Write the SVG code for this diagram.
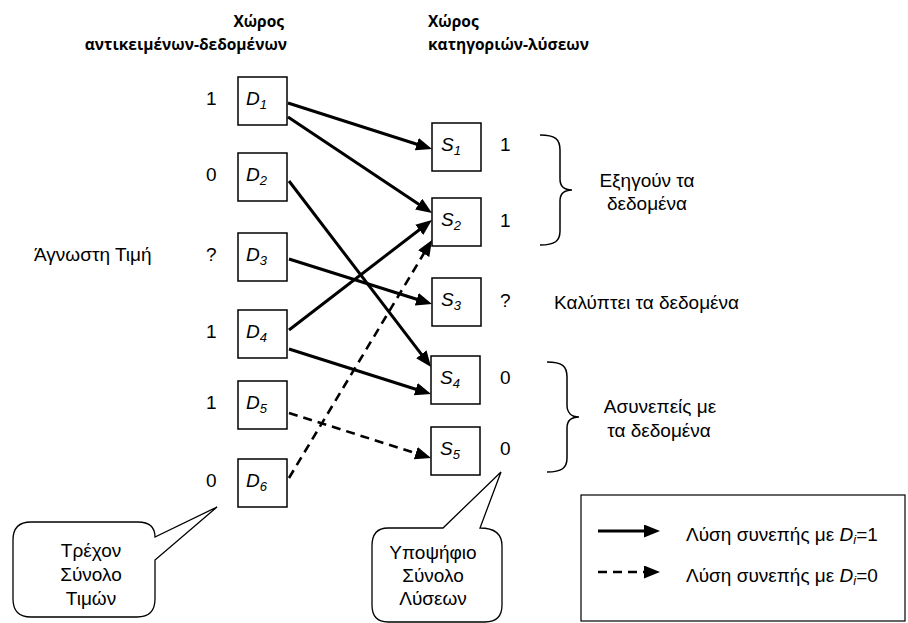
<svg xmlns="http://www.w3.org/2000/svg" width="908" height="623" viewBox="0 0 908 623">
<defs>
<style>
.t{font-family:"Liberation Sans",Arial,sans-serif;font-size:19px;fill:#000}
.h{font-family:"Open Sans","Liberation Sans",sans-serif;font-size:15.5px;font-weight:700;fill:#000}
.i{font-style:italic}
.box{fill:#fff;stroke:#000;stroke-width:1.5}
.sol{stroke:#000;stroke-width:3;fill:none}
.das{stroke:#000;stroke-width:2.6;fill:none;stroke-dasharray:9 6}
.thin{stroke:#000;stroke-width:1.5;fill:none}
.call{fill:#fff;stroke:#000;stroke-width:1.3}
</style>
<marker id="ah" markerUnits="userSpaceOnUse" markerWidth="18" markerHeight="14" refX="10" refY="6.5" orient="auto">
<path d="M0,0 L16,6.5 L0,13 Z" fill="#000"/>
</marker>
</defs>
<rect width="908" height="623" fill="#fff"/>

<g id="headers">
<text class="h" x="284" y="27" text-anchor="end">Χώρος</text>
<text class="h" x="287" y="50" text-anchor="end">αντικειμένων-δεδομένων</text>
<text class="h" x="428" y="27">Χώρος</text>
<text class="h" x="428" y="50">κατηγοριών-λύσεων</text>
</g>

<g id="connectors">
<line class="sol" x1="288" y1="103" x2="426.3" y2="147.2" marker-end="url(#ah)"/>
<line class="sol" x1="288" y1="117" x2="427" y2="209.7" marker-end="url(#ah)"/>
<line class="sol" x1="289" y1="181" x2="427.4" y2="362.2" marker-end="url(#ah)"/>
<line class="sol" x1="289" y1="259" x2="426.3" y2="302.2" marker-end="url(#ah)"/>
<line class="sol" x1="289" y1="330" x2="427.2" y2="223.7" marker-end="url(#ah)"/>
<line class="sol" x1="289" y1="349" x2="425.3" y2="392.2" marker-end="url(#ah)"/>
<line class="das" x1="289" y1="413" x2="425.3" y2="456.2" marker-end="url(#ah)"/>
<line class="das" x1="289" y1="478" x2="428.9" y2="245.1" marker-end="url(#ah)"/>
</g>

<g id="D1"><rect class="box" x="238" y="77" width="49" height="48"/><text class="t i" x="246" y="105">D<tspan font-size="13" dy="4">1</tspan></text><text class="t" x="206" y="105">1</text></g>
<g id="D2"><rect class="box" x="238" y="153" width="49" height="48"/><text class="t i" x="246" y="181">D<tspan font-size="13" dy="4">2</tspan></text><text class="t" x="206" y="181">0</text></g>
<g id="D3"><rect class="box" x="238" y="233" width="49" height="48"/><text class="t i" x="246" y="261">D<tspan font-size="13" dy="4">3</tspan></text><text class="t" x="206" y="261">?</text><text class="t" x="34" y="261">Άγνωστη Τιμή</text></g>
<g id="D4"><rect class="box" x="238" y="310" width="49" height="48"/><text class="t i" x="246" y="338">D<tspan font-size="13" dy="4">4</tspan></text><text class="t" x="206" y="338">1</text></g>
<g id="D5"><rect class="box" x="238" y="381" width="49" height="48"/><text class="t i" x="246" y="409">D<tspan font-size="13" dy="4">5</tspan></text><text class="t" x="206" y="409">1</text></g>
<g id="D6"><rect class="box" x="238" y="459" width="49" height="48"/><text class="t i" x="246" y="487">D<tspan font-size="13" dy="4">6</tspan></text><text class="t" x="206" y="487">0</text></g>

<g id="S1"><rect class="box" x="432" y="123" width="49" height="48"/><text class="t i" x="441" y="151">S<tspan font-size="13" dy="4">1</tspan></text><text class="t" x="500" y="151">1</text></g>
<g id="S2"><rect class="box" x="432" y="198" width="49" height="48"/><text class="t i" x="441" y="226">S<tspan font-size="13" dy="4">2</tspan></text><text class="t" x="500" y="227">1</text></g>
<g id="S3"><rect class="box" x="432" y="278" width="49" height="48"/><text class="t i" x="441" y="306">S<tspan font-size="13" dy="4">3</tspan></text><text class="t" x="500" y="307">?</text></g>
<g id="S4"><rect class="box" x="431" y="356" width="49" height="48"/><text class="t i" x="440" y="384">S<tspan font-size="13" dy="4">4</tspan></text><text class="t" x="500" y="384">0</text></g>
<g id="S5"><rect class="box" x="431" y="427" width="49" height="48"/><text class="t i" x="440" y="455">S<tspan font-size="13" dy="4">5</tspan></text><text class="t" x="500" y="455">0</text></g>

<g id="brace1">
<path class="thin" d="M540,135 C555,135 560,139 560,150 L560,179 C560,186 564,190 572,190 C564,190 560,194 560,201 L560,231 C560,241 555,245 540,245"/>
<text class="t" x="647" y="187" text-anchor="middle">Εξηγούν τα</text>
<text class="t" x="647" y="210" text-anchor="middle">δεδομένα</text>
</g>
<g id="covers"><text class="t" x="554" y="309">Καλύπτει τα δεδομένα</text></g>
<g id="brace2">
<path class="thin" d="M547,362 C562,362 567,366 567,377 L567,405 C567,412 571,417 579,417 C571,417 567,421 567,428 L567,458 C567,468 562,472 547,472"/>
<text class="t" x="660" y="413" text-anchor="middle">Ασυνεπείς με</text>
<text class="t" x="659" y="437" text-anchor="middle">τα δεδομένα</text>
</g>

<g id="callout1">
<path class="call" d="M31,522 H138 Q155,522 155,537 L217,507 L155,560 V599 Q155,617 137,617 H31 Q13,617 13,599 V540 Q13,522 31,522 Z"/>
<text class="t" x="91" y="557" text-anchor="middle">Τρέχον</text>
<text class="t" x="91" y="581" text-anchor="middle">Σύνολο</text>
<text class="t" x="91" y="605" text-anchor="middle">Τιμών</text>
</g>
<g id="callout2">
<path class="call" d="M388,528 H443 L501,472 L480,528 Q502,528 502,546 V605 Q502,622 485,622 H388 Q372,622 372,605 V546 Q372,528 388,528 Z"/>
<text class="t" x="433" y="559" text-anchor="middle">Υποψήφιο</text>
<text class="t" x="433" y="582" text-anchor="middle">Σύνολο</text>
<text class="t" x="433" y="605" text-anchor="middle">Λύσεων</text>
</g>

<g id="legend">
<rect x="581" y="495" width="324" height="126" fill="#fff" stroke="#000" stroke-width="1.2"/>
<line class="sol" x1="598" y1="531" x2="654" y2="531" marker-end="url(#ah)"/>
<line class="das" x1="598" y1="572" x2="654" y2="572" marker-end="url(#ah)" stroke-dasharray="10 5"/>
<text class="t" x="686" y="541">Λύση συνεπής με <tspan class="i">D</tspan><tspan class="i" font-size="13" dy="3">i</tspan><tspan dy="-3">=1</tspan></text>
<text class="t" x="686" y="582">Λύση συνεπής με <tspan class="i">D</tspan><tspan class="i" font-size="13" dy="3">i</tspan><tspan dy="-3">=0</tspan></text>
</g>
</svg>
